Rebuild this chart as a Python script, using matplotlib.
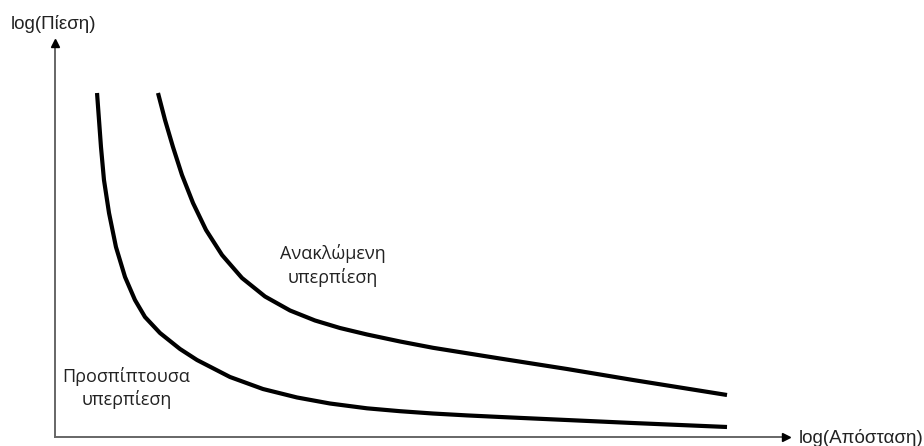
import matplotlib
matplotlib.use("Agg")
import matplotlib.pyplot as plt

plt.rcParams['font.family'] = ['Liberation Sans', 'DejaVu Sans']

# log(distance) / log(pressure) in arbitrary units
incident_x = [0.575, 0.602, 0.629, 0.670, 0.739, 0.834, 0.958, 1.094, 1.231,
              1.436, 1.710, 1.943, 2.394, 2.845, 3.311, 3.762, 4.268, 4.720,
              5.171, 5.636, 6.088, 7.004, 7.907, 9.193]
incident_y = [8.731, 8.046, 7.360, 6.523, 5.685, 4.822, 4.061, 3.477, 3.046,
              2.640, 2.234, 1.954, 1.523, 1.218, 1.003, 0.850, 0.728, 0.655,
              0.596, 0.548, 0.508, 0.431, 0.355, 0.254]

reflected_x = [1.409, 1.505, 1.614, 1.737, 1.888, 2.066, 2.285, 2.558, 2.873,
               3.215, 3.557, 3.899, 4.268, 4.720, 5.171, 6.088, 7.004, 7.907,
               9.193]
reflected_y = [8.731, 8.046, 7.360, 6.650, 5.939, 5.254, 4.619, 4.036, 3.566,
               3.211, 2.957, 2.766, 2.602, 2.424, 2.264, 1.992, 1.726, 1.447,
               1.066]

x_label = 'log(Απόσταση)'
y_label = 'log(Πίεση)'
incident_label = 'Προσπίπτουσα\nυπερπίεση'
reflected_label = 'Ανακλώμενη\nυπερπίεση'

fig = plt.figure(figsize=(9.24, 4.46), dpi=100)
ax = fig.add_axes([55 / 924, 9 / 446, 731 / 924, 394 / 446])
ax.set_xlim(0, 10)
ax.set_ylim(0, 10)
ax.axis('off')

# axes drawn as arrows
ax.plot([0, 10], [0, 0], color='#666666', lw=1.4, clip_on=False)
ax.plot([0, 0], [0, 10], color='#666666', lw=1.4, clip_on=False)
ax.plot(10, 0, marker='>', color='black', ms=6, clip_on=False)
ax.plot(0, 10, marker='^', color='black', ms=6, clip_on=False)

for xs, ys in [(incident_x, incident_y), (reflected_x, reflected_y)]:
    ax.plot(xs, ys, color='black', lw=3, solid_capstyle='butt',
            solid_joinstyle='round')

label_font = ['Open Sans', 'DejaVu Sans']
ax.text(0.98, 1.25, incident_label, ha='center', va='center', fontsize=13,
        color='#222222', linespacing=1.3, family=label_font)
ax.text(3.80, 4.35, reflected_label, ha='center', va='center', fontsize=13,
        color='#222222', linespacing=1.3, family=label_font)

fig.text(11 / 924, 1 - 24 / 446, y_label, ha='left', va='center', fontsize=13.5,
         color='#222222')
fig.text(799 / 924, 1 - 438 / 446, x_label, ha='left', va='center', fontsize=13.5,
         color='#222222')

fig.savefig('out.png', dpi=100, facecolor='white')
